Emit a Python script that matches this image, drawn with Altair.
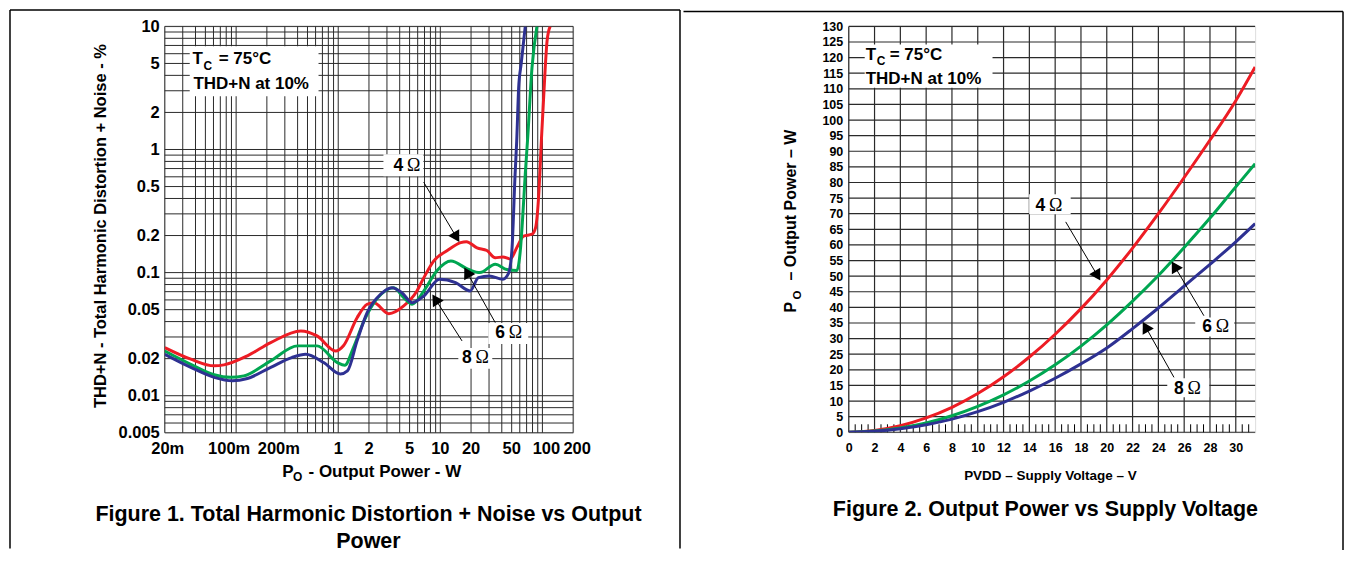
import math
import altair as alt
import pandas as pd

# ---------------- Figure 1: THD+N vs output power (log-log) ----------------
thd_power_4 = [0.02, 0.036, 0.061, 0.076, 0.129, 0.218, 0.43, 0.62, 0.94, 1.13, 1.53, 1.92,
               2.23, 3.13, 4.38, 5.9, 6.9, 8.6, 11.7, 15.8, 18.0, 22.9, 28.6, 34.5, 41.0,
               48.4, 56.2, 65.3, 79.0, 85.5, 92.5, 97.0, 106.5, 111.0, 119.0]
thd_value_4 = [0.0246, 0.0198, 0.0175, 0.0178, 0.0211, 0.027, 0.0336, 0.0306, 0.0231, 0.0256,
               0.043, 0.0553, 0.057, 0.0464, 0.0536, 0.071, 0.091, 0.124, 0.151, 0.175, 0.178,
               0.159, 0.151, 0.132, 0.134, 0.129, 0.16, 0.198, 0.205, 0.23, 0.46, 1.05, 4.6,
               7.6, 10.0]
thd_power_6 = [0.02, 0.036, 0.061, 0.088, 0.119, 0.218, 0.4, 0.62, 0.98, 1.16, 1.41, 1.79,
               2.42, 3.5, 4.38, 5.3, 6.9, 9.3, 12.7, 18.9, 24.4, 34.5, 44.8, 56.2, 60.7,
               63.5, 67.9, 72.0, 79.0, 88.3]
thd_value_6 = [0.0231, 0.018, 0.0148, 0.0141, 0.0145, 0.0192, 0.0254, 0.0254, 0.0186, 0.0177,
               0.0246, 0.0405, 0.062, 0.0755, 0.0627, 0.0553, 0.071, 0.104, 0.124, 0.106,
               0.1, 0.117, 0.106, 0.104, 0.15, 0.25, 0.63, 1.3, 4.6, 10.0]
thd_power_8 = [0.02, 0.036, 0.061, 0.092, 0.129, 0.218, 0.35, 0.48, 0.72, 1.05, 1.23, 1.53,
               1.92, 2.6, 3.35, 4.2, 5.3, 6.9, 9.8, 14.1, 19.6, 23.6, 30.2, 41.0, 46.4, 50.2,
               54.0, 56.0, 58.5, 62.0, 67.9]
thd_value_8 = [0.0217, 0.017, 0.0141, 0.0132, 0.0138, 0.017, 0.0204, 0.0217, 0.0186, 0.015,
               0.0159, 0.0279, 0.0473, 0.0667, 0.0755, 0.0687, 0.057, 0.0646, 0.0883, 0.0829,
               0.071, 0.091, 0.094, 0.0883, 0.098, 0.15, 0.63, 1.17, 3.16, 5.0, 10.0]

thd_x_ticks = [0.02, 0.1, 0.2, 1, 2, 5, 10, 20, 50, 100, 200]
thd_x_labels = ["20m", "100m", "200m", "1", "2", "5", "10", "20", "50", "100", "200"]
thd_y_ticks = [0.005, 0.01, 0.02, 0.05, 0.1, 0.2, 0.5, 1, 2, 5, 10]
thd_x_grid = [0.02, 0.03, 0.04, 0.05, 0.06, 0.07, 0.08, 0.09,
              0.1, 0.2, 0.3, 0.4, 0.5, 0.6, 0.7, 0.8, 0.9,
              1, 2, 3, 4, 5, 6, 7, 8, 9,
              10, 20, 30, 40, 50, 60, 70, 80, 90, 100, 200]
thd_y_grid = [0.005, 0.006, 0.007, 0.008, 0.009,
              0.01, 0.02, 0.03, 0.04, 0.05, 0.06, 0.07, 0.08, 0.09,
              0.1, 0.2, 0.3, 0.4, 0.5, 0.6, 0.7, 0.8, 0.9,
              1, 2, 3, 4, 5, 6, 7, 8, 9, 10]

# ---------------- Figure 2: output power vs supply voltage ----------------
pvdd = [0, 2, 4, 6, 8, 10, 12, 14, 16, 18, 20, 22, 24, 26, 28, 30, 31.5]
po_4 = [0, 0.6, 2.1, 4.6, 8.0, 12.4, 17.8, 24.1, 31.4, 39.6, 48.8, 59.0, 70.0, 81.6, 93.6, 106.2, 117.0]
po_6 = [0, 0.4, 1.4, 3.0, 5.3, 8.3, 12.0, 16.4, 21.6, 27.6, 34.4, 42.0, 50.2, 59.2, 68.6, 78.6, 86.0]
po_8 = [0, 0.3, 1.1, 2.4, 4.2, 6.6, 9.6, 13.2, 17.3, 21.9, 27.0, 33.2, 39.8, 46.8, 53.8, 61.0, 66.8]
pv_x_ticks = [0, 2, 4, 6, 8, 10, 12, 14, 16, 18, 20, 22, 24, 26, 28, 30]
pv_y_ticks = [0, 5, 10, 15, 20, 25, 30, 35, 40, 45, 50, 55, 60, 65, 70, 75, 80, 85, 90,
              95, 100, 105, 110, 115, 120, 125, 130]
pv_minor_ticks = [v / 2 for v in range(1, 63) if v % 4 != 0]

loads = ["4", "6", "8"]
RED, GREEN, BLUE = "#ED1C24", "#00A651", "#2E3192"
GRID = "#2a2a2a"
FONT = "Liberation Sans"

one = pd.DataFrame({"k": [0]})


def txt(s, x, y, size, weight="bold", font=FONT, align="left", baseline="alphabetic", angle=None):
    props = dict(text=s, font=font, fontSize=size, fontWeight=weight, align=align,
                 baseline=baseline, color="black")
    if angle is not None:
        props["angle"] = angle
    return alt.Chart(one).mark_text(**props).encode(x=alt.value(x), y=alt.value(y))


def box(x0, x1, y0, y1):
    return alt.Chart(one).mark_rect(color="white").encode(
        x=alt.value(x0), x2=alt.value(x1), y=alt.value(y0), y2=alt.value(y1))


def hline(x0, x1, y, w=1.5):
    return alt.Chart(one).mark_rule(color="black", strokeWidth=w).encode(
        x=alt.value(x0), x2=alt.value(x1), y=alt.value(y))


def vline(x, y0, y1, w=1.5):
    return alt.Chart(one).mark_rule(color="black", strokeWidth=w).encode(
        x=alt.value(x), y=alt.value(y0), y2=alt.value(y1))


def arrow(x0, y0, x1, y1, size=165):
    dx, dy = x1 - x0, y1 - y0
    length = math.hypot(dx, dy)
    ux, uy = dx / length, dy / length
    ang = math.degrees(math.atan2(dx, -dy)) % 360
    h = math.sqrt(size) / 2 * math.sqrt(3) / 2
    cx, cy = x1 - ux * h, y1 - uy * h
    line = alt.Chart(one).mark_rule(color="black", strokeWidth=1).encode(
        x=alt.value(x0), y=alt.value(y0), x2=alt.value(cx), y2=alt.value(cy))
    head = alt.Chart(one).mark_point(shape="triangle-up", filled=True, color="black",
                                     opacity=1, size=size, angle=ang, strokeWidth=0).encode(
        x=alt.value(cx), y=alt.value(cy))
    return [line, head]


def ohm(num, x, y):
    return [txt(num, x, y, 17.5), txt("Ω", x + 13.5, y, 18, weight="normal", font="Liberation Serif")]


axis_common = dict(grid=False, ticks=False, tickSize=0, domain=False, title=None,
                   labelFont=FONT, labelFontWeight="bold", labelColor="black",
                   labelFlush=False, labelOverlap=False, labelBound=False)

# ---------------- left panel ----------------
xl = alt.Scale(type="log", domain=[0.02, 200], nice=False)
yl = alt.Scale(type="log", domain=[0.005, 10], nice=False)
ax_lx = alt.Axis(values=[0.02], labelExpr="''", labelFontSize=16.5, labelPadding=8.5, **axis_common)
ax_ly = alt.Axis(values=thd_y_ticks, labelFontSize=16.5, labelPadding=5.5,
                 labelExpr="'' + datum.value", **axis_common)

# horizontal nudges of the crowded x tick labels, as in the reference
x_label_nudge = {"20m": 3, "100m": -7, "200m": 12, "100": 4, "200": 4}

thd_df = pd.concat([
    pd.DataFrame({"p": thd_power_4, "t": thd_value_4, "load": "4"}),
    pd.DataFrame({"p": thd_power_6, "t": thd_value_6, "load": "6"}),
    pd.DataFrame({"p": thd_power_8, "t": thd_value_8, "load": "8"}),
])

l_gx = alt.Chart(pd.DataFrame({"p": thd_x_grid})).mark_rule(color=GRID, strokeWidth=1).encode(
    x=alt.X("p:Q", scale=xl, axis=ax_lx))
l_gy = alt.Chart(pd.DataFrame({"t": thd_y_grid})).mark_rule(color=GRID, strokeWidth=1).encode(
    y=alt.Y("t:Q", scale=yl, axis=ax_ly))
l_curves = alt.Chart(thd_df).mark_line(strokeWidth=3, interpolate="monotone", clip=True).encode(
    x=alt.X("p:Q", scale=xl, axis=ax_lx),
    y=alt.Y("t:Q", scale=yl, axis=ax_ly),
    color=alt.Color("load:N", scale=alt.Scale(domain=loads, range=[RED, GREEN, BLUE]), legend=None),
)

l_xlabels = []
for val, lab in zip(thd_x_ticks, thd_x_labels):
    l_xlabels.append(
        alt.Chart(pd.DataFrame({"p": [val]}))
        .mark_text(text=lab, font=FONT, fontSize=16.5, fontWeight="bold", color="black",
                   align="center", baseline="top", dx=x_label_nudge.get(lab, 0))
        .encode(x=alt.X("p:Q", scale=xl, axis=ax_lx), y=alt.value(407 + 8.5))
    )

left_layers = [
    l_gx, l_gy,
    box(25, 154, 20, 70), box(219, 259, 128, 150), box(324, 364, 297, 318), box(294, 328, 322, 343),
    l_curves,
    *l_xlabels,
    *arrow(259.3, 156, 295, 216), *arrow(331, 296.7, 300, 241.5), *arrow(297.7, 315, 268, 268.5),
    txt("T", 27.7, 38, 17), txt("C", 38.7, 43.3, 12), txt("= 75°C", 54, 38, 17),
    txt("THD+N at 10%", 28.7, 62.3, 17),
    *ohm("4", 229, 145), *ohm("6", 331, 312.3), *ohm("8", 297.7, 337),
    txt("THD+N - Total Harmonic Distortion + Noise - %", -64, 200, 16.5,
        align="center", baseline="middle", angle=270),
    txt("P", 117.7, 451.5, 17), txt("O", 128.5, 455.5, 12), txt("- Output Power - W", 144, 451.5, 17),
    txt("Figure 1. Total Harmonic Distortion + Noise vs Output", 204, 495, 21.5, align="center"),
    txt("Power", 204, 522, 21.5, align="center"),
    hline(-155, 516, -16.5), vline(-155, -16.5, 523), vline(516, -16.5, 523),
]
left = alt.layer(*left_layers).properties(width=409, height=407)

# ---------------- right panel ----------------
xr = alt.Scale(domain=[0, 31.5], nice=False, zero=False)
yr = alt.Scale(domain=[0, 130], nice=False)
ax_rx = alt.Axis(values=pv_x_ticks, labelFontSize=12.5, labelPadding=9, format="d", **axis_common)
ax_ry = alt.Axis(values=pv_y_ticks, labelFontSize=12.5, labelPadding=6, format="d", **axis_common)

pv_df = pd.concat([
    pd.DataFrame({"v": pvdd, "w": po_4, "load": "4"}),
    pd.DataFrame({"v": pvdd, "w": po_6, "load": "6"}),
    pd.DataFrame({"v": pvdd, "w": po_8, "load": "8"}),
])

r_gx = alt.Chart(pd.DataFrame({"v": pv_x_ticks})).mark_rule(color=GRID, strokeWidth=1.2).encode(
    x=alt.X("v:Q", scale=xr, axis=ax_rx))
r_gy = alt.Chart(pd.DataFrame({"w": pv_y_ticks})).mark_rule(color=GRID, strokeWidth=1.2).encode(
    y=alt.Y("w:Q", scale=yr, axis=ax_ry))
r_minor = alt.Chart(pd.DataFrame({"v": pv_minor_ticks})).mark_rule(color="black", strokeWidth=1).encode(
    x=alt.X("v:Q", scale=xr, axis=ax_rx), y=alt.value(406.5), y2=alt.value(398.5))
r_curves = alt.Chart(pv_df).mark_line(strokeWidth=3, interpolate="monotone", clip=True).encode(
    x=alt.X("v:Q", scale=xr, axis=ax_rx),
    y=alt.Y("w:Q", scale=yr, axis=ax_ry),
    color=alt.Color("load:N", scale=alt.Scale(domain=loads, range=[RED, GREEN, BLUE]), legend=None),
)

right_layers = [
    r_gx, r_gy, r_minor,
    box(16, 144, 18.2, 61.5), box(180.7, 222.3, 168.2, 188.2), box(347, 386, 291.5, 310.5),
    box(319, 361, 352.5, 371.5),
    r_curves,
    *arrow(217.3, 195.8, 252, 254.5), *arrow(355.7, 289.8, 323.5, 235.5), *arrow(325.7, 351.5, 294.5, 296),
    txt("T", 17, 33.2, 17), txt("C", 28, 38.2, 12), txt("= 75°C", 41, 33.2, 17),
    txt("THD+N at 10%", 17, 58.2, 17),
    *ohm("4", 187, 184.8), *ohm("6", 354, 306.5), *ohm("8", 325.7, 368.2),
    txt("P", -52.7, 286.5, 16, angle=270), txt("O", -48, 273.5, 11.5, angle=270),
    txt("– Output Power – W", -52.7, 254.5, 16, angle=270),
    txt("PVDD – Supply Voltage – V", 202, 454.5, 13.5, align="center"),
    txt("Figure 2. Output Power vs Supply Voltage", 197, 490, 21.5, align="center"),
    hline(-165.5, 495, -15), vline(495, -15, 524.5),
]
right = alt.layer(*right_layers).properties(width=407, height=406.5)

chart = (
    alt.hconcat(left, right, spacing=0)
    .properties(padding=0, background="white")
    .configure_view(stroke="black", strokeWidth=2.5)
    .configure(font=FONT)
)

chart.save("out.html", embed_options={"renderer": "svg", "actions": False})
